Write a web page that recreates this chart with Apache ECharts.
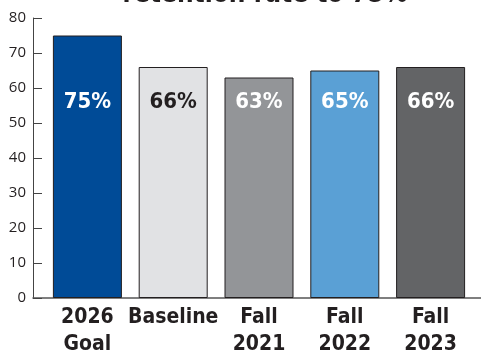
<!DOCTYPE html>
<html>
<head>
<meta charset="utf-8">
<script src="https://cdn.jsdelivr.net/npm/echarts@6/dist/echarts.min.js"></script>
<style>
html,body{margin:0;padding:0;background:#fff;}
#chart{width:481px;height:353px;}
</style>
</head>
<body>
<div id="chart"></div>
<script>
// Retention rate: goal, baseline and fall cohorts
const categories = ['2026\nGoal', 'Baseline', 'Fall\n2021', 'Fall\n2022', 'Fall\n2023'];
const values = [75, 66, 63, 65, 66];
const barColors = ['#004b97', '#e1e2e4', '#939598', '#5aa0d5', '#636466'];
const labelColors = ['#ffffff', '#231f20', '#ffffff', '#ffffff', '#ffffff'];
const yTicks = [0, 10, 20, 30, 40, 50, 60, 70, 80];
const titleText = 'retention rate to 75%';

const condensed = '"DejaVu Sans Condensed", "Liberation Sans Narrow", sans-serif';

const chart = echarts.init(document.getElementById('chart'), null, { renderer: 'canvas' });

chart.setOption({
  animation: false,
  graphic: [{
    type: 'text',
    style: {
      text: titleText,
      x: 265,
      y: 8,
      textAlign: 'center',
      textVerticalAlign: 'bottom',
      font: 'bold 26px ' + condensed,
      fill: '#231f20'
    }
  }],
  grid: [
    { left: 33, right: 0, top: 18, bottom: 55, outerBoundsMode: 'none', containLabel: false },
    { left: 44.5, width: 429, top: 18, bottom: 55, outerBoundsMode: 'none', containLabel: false }
  ],
  xAxis: [
    {
      gridIndex: 0, type: 'value', min: 0, max: 1,
      axisLine: { show: true, lineStyle: { color: '#555', width: 1.5 } },
      axisTick: { show: false }, axisLabel: { show: false }, splitLine: { show: false }
    },
    {
      gridIndex: 1, type: 'category', data: categories,
      axisLine: { show: false }, axisTick: { show: false },
      axisLabel: {
        color: '#231f20', fontFamily: condensed, fontWeight: 'bold',
        fontSize: 21, lineHeight: 27, margin: 6, interval: 0
      }
    }
  ],
  yAxis: [
    {
      gridIndex: 0, type: 'value', min: yTicks[0], max: yTicks[yTicks.length - 1], interval: 10,
      axisLine: { show: true, lineStyle: { color: '#444', width: 1 } },
      axisTick: { show: true, inside: true, length: 9, lineStyle: { color: '#444' } },
      axisLabel: { color: '#231f20', fontFamily: '"Open Sans", sans-serif', fontSize: 15, margin: 7 },
      splitLine: { show: false }
    },
    {
      gridIndex: 1, type: 'value', min: yTicks[0], max: yTicks[yTicks.length - 1],
      show: false
    }
  ],
  series: [{
    type: 'bar',
    xAxisIndex: 1, yAxisIndex: 1,
    barWidth: 69,
    data: values.map((v, i) => ({
      value: v,
      itemStyle: { color: barColors[i], borderColor: '#231f20', borderWidth: 1 },
      label: { color: labelColors[i] }
    })),
    label: {
      show: true,
      position: 'insideBottom',
      distance: 185,
      formatter: p => p.value + '%',
      fontFamily: condensed,
      fontWeight: 'bold',
      fontSize: 22
    }
  }]
});
</script>
</body>
</html>
